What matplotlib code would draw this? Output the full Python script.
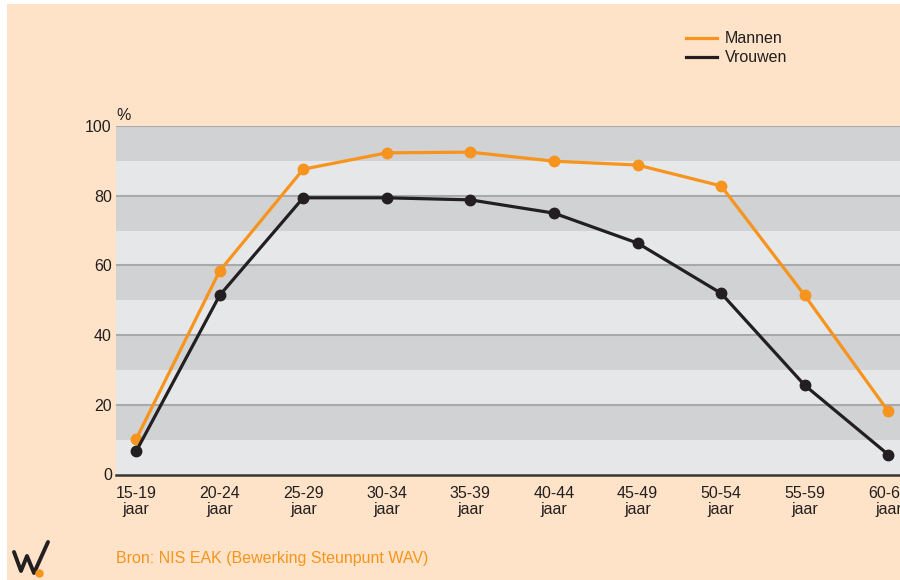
import matplotlib.pyplot as plt
from matplotlib.patches import Rectangle
from matplotlib.lines import Line2D

plt.rcParams['font.family'] = ['Liberation Sans Narrow', 'Liberation Sans', 'DejaVu Sans']

# data
leeftijd = ["15-19\njaar", "20-24\njaar", "25-29\njaar", "30-34\njaar", "35-39\njaar",
            "40-44\njaar", "45-49\njaar", "50-54\njaar", "55-59\njaar", "60-64\njaar"]
mannen = [10.1, 58.4, 87.6, 92.3, 92.5, 89.9, 88.8, 82.8, 51.4, 18.1]
vrouwen = [6.6, 51.4, 79.4, 79.4, 78.8, 75.0, 66.4, 52.0, 25.6, 5.7]

oranje = "#f7941d"
zwart = "#231f20"
perzik = "#fee3c8"
tekst = "#231f20"

fig = plt.figure(figsize=(9, 5.8), dpi=100)
fig.patch.set_facecolor("white")
fig.patches.append(Rectangle((7 / 900, 0), 1, 1 - 4 / 580, transform=fig.transFigure,
                             facecolor=perzik, edgecolor="none", zorder=-10))

ax = fig.add_axes([116 / 900, 105.5 / 580, 784 / 900, 348.5 / 580])
ax.set_facecolor("#e6e7e8")
ax.set_xlim(-0.24, 9.14)
ax.set_ylim(0, 100)

# alternating bands and gridlines
for lo in range(10, 100, 20):
    ax.axhspan(lo, lo + 10, color="#d1d2d4", lw=0, zorder=0)
for y in range(20, 101, 20):
    ax.axhline(y, color="#a7a9ac", lw=1.5, zorder=1)

x = list(range(len(leeftijd)))
ax.plot(x, mannen, color=oranje, lw=2.3, marker="o", ms=7.5, zorder=3, clip_on=False)
ax.plot(x, vrouwen, color=zwart, lw=2.3, marker="o", ms=7.5, zorder=4, clip_on=False)

for s in ["top", "right", "left"]:
    ax.spines[s].set_visible(False)
ax.spines["bottom"].set_color("#3a3536")
ax.spines["bottom"].set_linewidth(1.8)

ax.set_yticks([0, 20, 40, 60, 80, 100])
ax.set_xticks(x)
ax.set_xticklabels(leeftijd, linespacing=1.1)
ax.tick_params(length=0, labelsize=11.5, colors=tekst)
ax.tick_params(axis="y", pad=3)
ax.tick_params(axis="x", pad=8)

fig.text(116 / 900, 1 - 115 / 580, "%", fontsize=11.5, color=tekst, va="center")

handles = [Line2D([], [], color=oranje, lw=2.3), Line2D([], [], color=zwart, lw=2.3)]
fig.legend(handles, ["Mannen", "Vrouwen"], loc="upper left",
           bbox_to_anchor=(672 / 900, 1 - 17 / 580), frameon=False, fontsize=11.5,
           handlelength=1.9, handletextpad=0.5, labelspacing=0.25, labelcolor=tekst)

fig.text(116 / 900, 1 - 558 / 580, "Bron: NIS EAK (Bewerking Steunpunt WAV)",
         fontsize=11.5, color=oranje, va="center")

# logo
px = [14, 21, 27, 34, 48]
py = [552, 571, 556, 573, 542]
fig.lines.append(Line2D([p / 900 for p in px], [1 - p / 580 for p in py],
                        transform=fig.transFigure, color=zwart, lw=2.8,
                        solid_joinstyle="round", solid_capstyle="round"))
fig.lines.append(Line2D([39 / 900], [1 - 573 / 580], transform=fig.transFigure,
                        marker="o", ms=5, color=oranje, lw=0))

fig.savefig("out.png", dpi=100, facecolor=fig.get_facecolor())
